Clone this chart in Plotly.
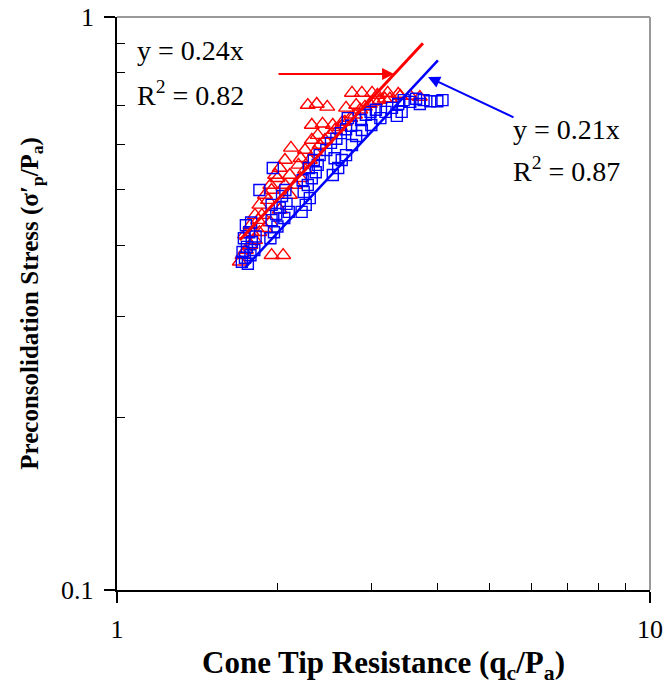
import plotly.graph_objects as go

# ---- data (data units) ----
red_x = [2.76, 2.88, 3.01, 3.22, 3.37, 3.55, 3.70, 2.28, 2.37, 2.48, 2.32, 2.43, 2.54, 2.65, 2.12, 1.95, 2.05,
         1.738, 1.78, 1.815, 1.85, 1.895, 1.94, 1.98, 2.02, 2.066, 1.87, 1.92, 1.79, 1.84, 1.95, 2.00,
         1.70, 1.72, 1.745, 1.78, 1.815, 1.85, 1.895, 1.94, 2.02, 2.11, 2.157, 2.21, 2.253, 2.30, 2.352,
         2.40, 2.456, 2.51, 2.564, 2.62, 2.677, 2.74, 2.796, 2.86, 2.918, 2.98, 3.048, 3.11, 3.18, 3.25,
         3.40, 2.19, 2.253, 2.32, 2.11, 2.066, 2.38, 2.21, 2.69, 2.81, 3.08]
red_y = [0.737, 0.737, 0.737, 0.737, 0.734, 0.728, 0.725, 0.702, 0.705, 0.697, 0.648, 0.651, 0.648, 0.656, 0.591, 0.384, 0.384,
         0.417, 0.433, 0.451, 0.470, 0.489, 0.509, 0.530, 0.545, 0.563, 0.451, 0.479, 0.421, 0.442, 0.499, 0.523,
         0.374, 0.384, 0.392, 0.400, 0.408, 0.421, 0.428, 0.438, 0.461, 0.489, 0.509, 0.523, 0.541, 0.563, 0.581,
         0.598, 0.610, 0.622, 0.635, 0.642, 0.656, 0.666, 0.675, 0.689, 0.697, 0.705, 0.711, 0.716, 0.720, 0.720,
         0.728, 0.552, 0.586, 0.610, 0.530, 0.509, 0.622, 0.567, 0.694, 0.702, 0.731]

blue_x = [1.715, 1.738, 1.76, 1.72, 1.753, 1.78, 1.79, 1.73, 1.77, 1.81, 1.82, 1.745, 1.785, 1.85, 1.96,
          1.94, 1.97, 2.00, 1.95, 1.99, 2.02, 2.06, 2.08, 2.04, 2.07, 1.95, 2.10,
          2.22, 2.26, 2.30, 2.24, 2.28, 2.32, 2.36, 2.38, 2.34, 2.40, 2.29, 2.23,
          2.54, 2.60, 2.64, 2.69, 2.56,
          2.47, 2.52, 2.58, 2.63, 2.69, 2.75, 2.81, 2.87, 2.93, 2.99, 3.06, 3.12, 3.19, 2.88, 2.76, 3.00, 2.71,
          3.28, 3.37, 3.45, 3.55, 3.64, 3.35, 3.42,
          3.76, 3.87, 3.99, 4.08, 3.70]
blue_y = [0.374, 0.380, 0.371, 0.389, 0.397, 0.384, 0.405, 0.411, 0.421, 0.392, 0.414, 0.433, 0.438, 0.499, 0.545,
          0.411, 0.421, 0.431, 0.442, 0.453, 0.465, 0.446, 0.472, 0.487, 0.499, 0.470, 0.457,
          0.457, 0.470, 0.483, 0.495, 0.509, 0.523, 0.536, 0.552, 0.563, 0.574, 0.545, 0.519,
          0.530, 0.545, 0.563, 0.574, 0.567,
          0.586, 0.603, 0.613, 0.627, 0.637, 0.646, 0.620, 0.661, 0.675, 0.683, 0.689, 0.666, 0.683, 0.635, 0.598, 0.648, 0.666,
          0.694, 0.705, 0.716, 0.711, 0.720, 0.672, 0.683,
          0.716, 0.713, 0.713, 0.716, 0.705]

# fitted lines y = k * x
red_slope = 0.24
red_fit_x = [1.70, 3.75]
blue_slope = 0.21
blue_fit_x = [1.74, 4.0]

x_major = [1, 10]
x_major_text = ["1", "10"]
x_minor = [2, 3, 4, 5, 6, 7, 8, 9]
y_major = [0.1, 1]
y_major_text = ["0.1", "1"]
y_minor = [0.2, 0.3, 0.4, 0.5, 0.6, 0.7, 0.8, 0.9]

SERIF = "Liberation Serif, Times New Roman, serif"

fig = go.Figure()
fig.add_trace(go.Scatter(x=red_x, y=red_y, mode="markers",
                         marker=dict(symbol="triangle-up-open", size=13, color="#ff0000",
                                     line=dict(width=1.4, color="#ff0000")),
                         showlegend=False))
fig.add_trace(go.Scatter(x=blue_x, y=blue_y, mode="markers",
                         marker=dict(symbol="square-open", size=11, color="#0000ff",
                                     line=dict(width=1.4, color="#0000ff")),
                         showlegend=False))
fig.add_trace(go.Scatter(x=red_fit_x, y=[red_slope * v for v in red_fit_x], mode="lines",
                         line=dict(color="#ff0000", width=3), showlegend=False))
fig.add_trace(go.Scatter(x=blue_fit_x, y=[blue_slope * v for v in blue_fit_x], mode="lines",
                         line=dict(color="#0000ff", width=2.5), showlegend=False))

axis_common = dict(showline=True, linecolor="black", linewidth=1.5, showgrid=False, zeroline=False,
                   ticks="outside", ticklen=11, tickwidth=1.5, tickcolor="black", automargin=False,
                   tickfont=dict(family=SERIF, size=26, color="black"))

fig.update_xaxes(type="log", range=[0, 1], tickmode="array", tickvals=x_major, ticktext=x_major_text,
                 ticklabelstandoff=4,
                 minor=dict(ticks="inside", tickmode="array", tickvals=x_minor, ticklen=7,
                            tickwidth=1.3, tickcolor="black", showgrid=False),
                 **axis_common)
fig.update_yaxes(type="log", range=[-1, 0], tickmode="array", tickvals=y_major, ticktext=y_major_text,
                 showticklabels=False,
                 minor=dict(ticks="inside", tickmode="array", tickvals=y_minor, ticklen=8,
                            tickwidth=1.3, tickcolor="black", showgrid=False),
                 **axis_common)

# y tick labels placed next to their ticks
for val, txt in zip(y_major, y_major_text):
    fig.add_annotation(xref="paper", yref="y", x=-0.04, y=[-1, 0][y_major.index(val)],
                       xanchor="right", yanchor="middle", text=txt, showarrow=False,
                       font=dict(family=SERIF, size=26, color="black"))

# gray top and right frame
fig.add_shape(type="line", xref="paper", yref="paper", x0=0, x1=1, y0=1, y1=1,
              line=dict(color="#999999", width=2))
fig.add_shape(type="line", xref="paper", yref="paper", x0=1, x1=1, y0=0, y1=1,
              line=dict(color="#999999", width=2))

ann_font = dict(family=SERIF, size=28, color="black")
fig.add_annotation(xref="paper", yref="paper", x=0.034, y=0.942, xanchor="left", yanchor="middle",
                   text="y = 0.24x", showarrow=False, font=ann_font)
fig.add_annotation(xref="paper", yref="paper", x=0.034, y=0.867, xanchor="left", yanchor="middle",
                   text="R<sup>2</sup> = 0.82", showarrow=False, font=ann_font)
fig.add_annotation(xref="paper", yref="paper", x=0.739, y=0.803, xanchor="left", yanchor="middle",
                   text="y = 0.21x", showarrow=False, font=ann_font)
fig.add_annotation(xref="paper", yref="paper", x=0.739, y=0.733, xanchor="left", yanchor="middle",
                   text="R<sup>2</sup> = 0.87", showarrow=False, font=ann_font)

# arrows pointing at the fit lines
fig.add_annotation(x=0.5198, y=-0.0996, xref="x", yref="y", ax=-117, ay=0, text="",
                   showarrow=True, arrowhead=2, arrowsize=1.2, arrowwidth=2, arrowcolor="#ff0000")
fig.add_annotation(x=0.5835, y=-0.1047, xref="x", yref="y", ax=87, ay=41, text="",
                   showarrow=True, arrowhead=2, arrowsize=1.2, arrowwidth=2, arrowcolor="#0000ff")

# axis titles
fig.add_annotation(xref="paper", yref="paper", x=0.5, y=-0.131, xanchor="center", yanchor="middle",
                   text="<b>Cone Tip Resistance (q<sub>c</sub>/P<sub>a</sub>)</b>", showarrow=False,
                   font=dict(family=SERIF, size=31, color="black"))
fig.add_annotation(xref="paper", yref="paper", x=-0.161, y=0.5, xanchor="center", yanchor="middle",
                   textangle=-90,
                   text="<b>Preconsolidation Stress (σ′<sub>p</sub>/P<sub>a</sub>)</b>", showarrow=False,
                   font=dict(family=SERIF, size=25, color="black"))

fig.update_layout(width=667, height=684, margin=dict(l=117, r=17, t=17, b=94),
                  plot_bgcolor="white", paper_bgcolor="white")

fig.write_html("out.html")
